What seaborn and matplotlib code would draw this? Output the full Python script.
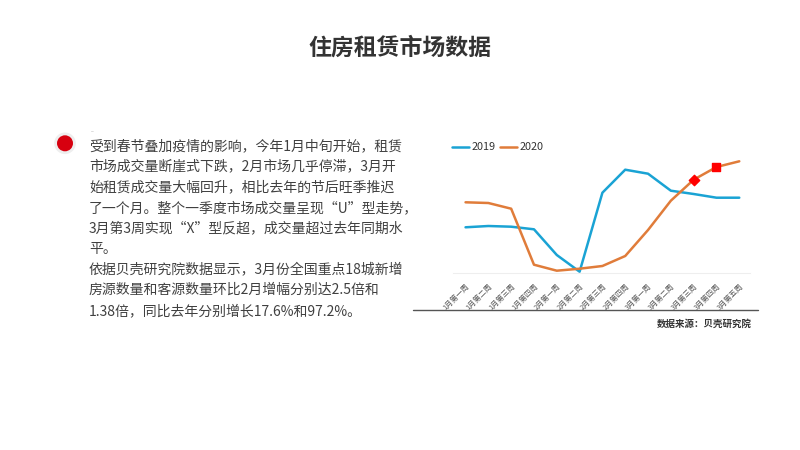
import matplotlib
matplotlib.use('Agg')
import matplotlib.pyplot as plt
from matplotlib.lines import Line2D
from matplotlib.patches import Circle
import pandas as pd
import seaborn as sns

sns.set_theme(style='white')
plt.rcParams['font.family'] = ['Noto Sans CJK SC', 'DejaVu Sans']

# data (relative units, axis hidden)
weeks = ['1月第一周', '1月第二周', '1月第三周', '1月第四周',
         '2月第一周', '2月第二周', '2月第三周', '2月第四周',
         '3月第一周', '3月第二周', '3月第三周', '3月第四周', '3月第五周']
y2019 = [45.4, 46.7, 46.0, 43.4, 17.7, 1.0, 80.0, 103.0, 99.0, 82.0, 78.7, 75.0, 75.0]
y2020 = [70.4, 69.7, 64.0, 8.0, 2.0, 4.0, 6.7, 16.7, 42.7, 72.0, 93.0, 105.7, 111.4]
years = ['2019', '2020']
colors = {'2019': '#1aa3d4', '2020': '#e07c3a'}

title = '住房租赁市场数据'
body_lines = [
    '受到春节叠加疫情的影响，今年1月中旬开始，租赁',
    '市场成交量断崖式下跌，2月市场几乎停滞，3月开',
    '始租赁成交量大幅回升，相比去年的节后旺季推迟',
    '了一个月。整个一季度市场成交量呈现“U”型走势，',
    '3月第3周实现“X”型反超，成交量超过去年同期水',
    '平。',
    '依据贝壳研究院数据显示，3月份全国重点18城新增',
    '房源数量和客源数量环比2月增幅分别达2.5倍和',
    '1.38倍，同比去年分别增长17.6%和97.2%。',
]
source = '数据来源：贝壳研究院'

df = pd.DataFrame({
    'week': list(range(len(weeks))) * 2,
    'value': y2019 + y2020,
    'year': ['2019'] * len(weeks) + ['2020'] * len(weeks),
})

W, H = 800, 450
fig = plt.figure(figsize=(8, 4.5), dpi=100)
fig.patch.set_facecolor('white')

# title
fig.text(400 / W, 1 - 48 / H, title, ha='center', va='center',
         fontsize=16.5, fontweight='bold', color='#333333')

# bullet
fig.add_artist(Circle((0.65, (H - 143.3) / 100), 0.108, transform=fig.dpi_scale_trans,
                      facecolor='#eeeeee', edgecolor='none'))
fig.add_artist(Circle((0.65, (H - 143.3) / 100), 0.08, transform=fig.dpi_scale_trans,
                      facecolor='#d7000f', edgecolor='none'))
fig.text(93 / W, 1 - 132 / H, '--', ha='center', va='center', fontsize=4, color='#999999')

# body text
for i, line in enumerate(body_lines):
    fig.text(89 / W, 1 - (146 + i * 20.6) / H, line, ha='left', va='center',
             fontsize=10, color='#404040')

# chart
ax = fig.add_axes([453 / W, 1 - 272.7 / H, 297 / W, 122.7 / H])
sns.lineplot(data=df, x='week', y='value', hue='year', hue_order=years,
             palette=colors, linewidth=1.8, ax=ax, legend=False)
ax.scatter([10], [y2020[10]], marker='D', s=28, color='#ff0000', zorder=5)
ax.scatter([11], [y2020[11]], marker='s', s=28, color='#ff0000', zorder=5)

ax.set_xlim(-0.55, 12.47)
ax.set_ylim(0, 122.7)
ax.set_xticks(range(len(weeks)))
ax.set_xticklabels(weeks, rotation=45, ha='right', rotation_mode='anchor',
                   fontsize=5.3, color='#555555')
ax.tick_params(axis='x', length=0, pad=7)
ax.set_yticks([])
ax.set_xlabel('')
ax.set_ylabel('')
for s in ['top', 'left', 'right']:
    ax.spines[s].set_visible(False)
ax.spines['bottom'].set_color('#eeeeee')
ax.spines['bottom'].set_linewidth(0.8)
ax.patch.set_alpha(0)

handles = [Line2D([0], [0], color=colors[y], lw=1.8) for y in years]
fig.legend(handles, years, loc='center left', bbox_to_anchor=(452 / W, 1 - 147.3 / H),
           ncol=2, frameon=False, fontsize=7.8, handlelength=1.6, handletextpad=0.2,
           columnspacing=0.4, borderpad=0, borderaxespad=0, labelcolor='#333333')

# divider and source
fig.add_artist(Line2D([413 / W, 758 / W], [1 - 310 / H, 1 - 310 / H],
                      color='#555555', lw=1.0))
fig.text(752 / W, 1 - 323.5 / H, source, ha='right', va='center',
         fontsize=6.8, fontweight='bold', color='#333333')

fig.savefig('out.png', dpi=100, facecolor='white')
